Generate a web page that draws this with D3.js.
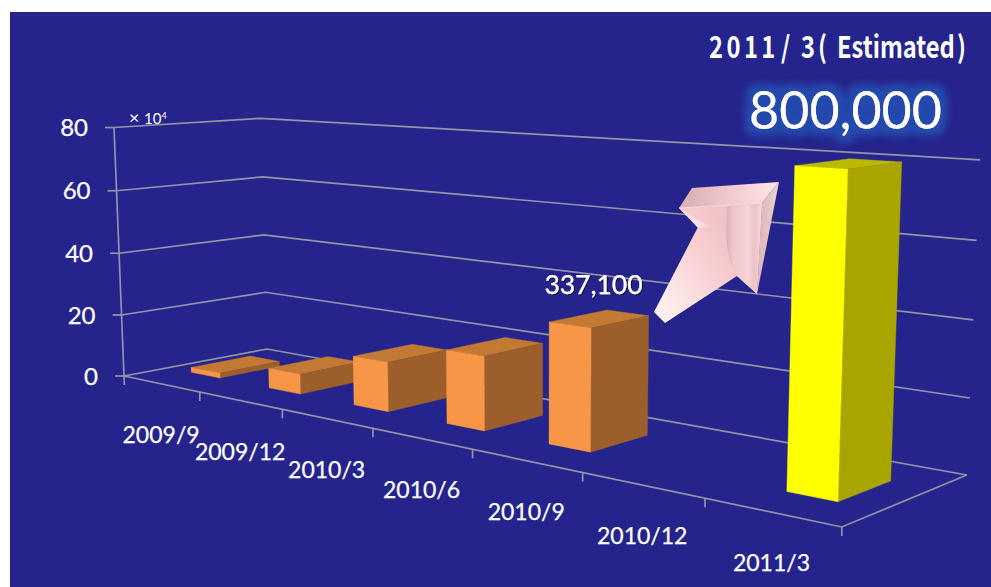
<!DOCTYPE html>
<html>
<head>
<meta charset="utf-8">
<script src="https://cdn.jsdelivr.net/npm/d3@7"></script>
<style>
  html, body { margin: 0; padding: 0; background: #fff; }
  svg { display: block; }
  text { font-family: Lato, "Open Sans", sans-serif; fill: #fff; }
  .soft { stroke: #fff; stroke-width: 0.25; }
</style>
</head>
<body>
<svg id="chart" width="991" height="587"></svg>
<script>
// Quarterly figures, with the final quarter as a forecast
const categories = ["2009/9", "2009/12", "2010/3", "2010/6", "2010/9", "2010/12", "2011/3"];
const values = [16000, 62000, 148000, 214000, 337100, null, 800000];
const estimated = [false, false, false, false, false, false, true];
const yMax = 800000;
const yTickCount = 4;
const valueLabels = { "2010/9": "337,100", "2011/3": "800,000" };
const headlineRuns = ["2011", "/", "3", "(", "Estimated", ")"];

const palette = {
  actual: { front: "#f79646", side: "#9c5f2b", top: "#c27934" },
  estimated: { front: "#ffff00", side: "#a8a400", top: "#bcb800" }
};

const svg = d3.select("#chart");

// Scales work in unit world space: u along the categories, v into the depth, w upward
const uBand = d3.scaleBand().domain(categories).range([0, 1]).paddingInner(0.62).paddingOuter(0.31);
const uTicks = d3.scaleBand().domain(categories).range([0, 1]);
const vBar = d3.scaleLinear().domain([0, 1]).range([0.295, 0.71]);
const w = d3.scaleLinear().domain([0, yMax]).range([0, 1]);

// Perspective camera as a homogeneous 3x4 matrix
const camera = [
  [472, 163.8, -12.7, 124],
  [-2.9, 0.2, -251.5, 376],
  [-0.292, 0.0779, -0.0236, 1]
];
function project(u, v, h) {
  const row = r => r[0] * u + r[1] * v + r[2] * h + r[3];
  const d = row(camera[2]);
  return [row(camera[0]) / d, row(camera[1]) / d];
}
const line = d3.line();

const defs = svg.append("defs");

// Halo behind the headline number
const glow = defs.append("filter").attr("id", "halo")
  .attr("x", "-20%").attr("y", "-50%").attr("width", "140%").attr("height", "200%");
glow.append("feMorphology").attr("in", "SourceAlpha").attr("operator", "dilate").attr("radius", 7).attr("result", "fat");
glow.append("feGaussianBlur").attr("in", "fat").attr("stdDeviation", 3.5).attr("result", "soft");
glow.append("feFlood").attr("flood-color", "#2449ad").attr("result", "tint");
glow.append("feComposite").attr("in", "tint").attr("in2", "soft").attr("operator", "in").attr("result", "ring");
const glowMerge = glow.append("feMerge");
glowMerge.append("feMergeNode").attr("in", "ring");
glowMerge.append("feMergeNode").attr("in", "SourceGraphic");

// Slight drop shadow under the bar label
const shade = defs.append("filter").attr("id", "shade");
shade.append("feDropShadow").attr("dx", 1).attr("dy", 1).attr("stdDeviation", 0.7).attr("flood-color", "#000").attr("flood-opacity", 0.6);

function gradient(id, x1, y1, x2, y2, stops) {
  const g = defs.append("linearGradient").attr("id", id)
    .attr("gradientUnits", "userSpaceOnUse")
    .attr("x1", x1).attr("y1", y1).attr("x2", x2).attr("y2", y2);
  stops.forEach(([o, c]) => g.append("stop").attr("offset", o).attr("stop-color", c));
}
gradient("arrowFront", 660, 300, 740, 250, [[0, "#fdeeee"], [0.6, "#f8d0d2"], [1, "#f0c3c7"]]);
gradient("arrowTop", 690, 200, 775, 190, [[0, "#dcb2b7"], [0.5, "#f3cbce"], [1, "#fde4e4"]]);
gradient("arrowSide", 762, 240, 778, 240, [[0, "#dfb9bc"], [1, "#efd2d3"]]);
gradient("arrowLens", 727, 240, 762, 240, [[0, "#dfb1b6"], [0.18, "#efc8cb"], [0.6, "#f6d3d6"], [0.78, "#ecc2c6"], [1, "#f7d8da"]]);

// Panel
svg.append("rect").attr("x", 10).attr("y", 12).attr("width", 981).attr("height", 575).attr("fill", "#25248c");

// Walls and floor
const gridColor = "#9393a8";
const grid = svg.append("g").attr("fill", "none").attr("stroke", gridColor).attr("stroke-width", 1.7);
const yTicks = d3.scaleLinear().domain([0, yMax]).ticks(yTickCount);
grid.selectAll("path.wall").data(yTicks).join("path").attr("class", "wall")
  .attr("d", t => line([project(0, 0, w(t)), project(0, 1, w(t)), project(1, 1, w(t))]));
grid.selectAll("path.ytick").data(yTicks).join("path").attr("class", "ytick")
  .attr("d", t => {
    const [px, py] = project(0, 0, w(t));
    return line([[px - 9, py], [px, py]]);
  });
grid.append("path").attr("d", () => {
  const [fx, fy] = project(0, 0, 0);
  return line([project(0, 0, 1), [fx, fy], [fx + 0.3, fy + 9]]);
});
grid.append("path").attr("d", line([project(0, 0, 0), project(1, 0, 0), project(1, 1, 0)]));
const xTickAt = categories.map(c => uTicks(c) + uTicks.bandwidth());
grid.selectAll("path.xtick").data(xTickAt).join("path").attr("class", "xtick")
  .attr("d", u => {
    const [px, py] = project(u, 0, 0);
    return line([[px, py], [px, py + 9]]);
  });

// Value axis labels
svg.selectAll("text.ylab").data(yTicks).join("text").attr("class", "ylab soft")
  .attr("x", t => project(0, 0, w(t))[0] - 26)
  .attr("y", t => project(0, 0, w(t))[1])
  .attr("dy", "0.36em").attr("text-anchor", "end").attr("font-size", 24)
  .text(t => t / 10000);

// Unit marker at the top of the axis
const unit = svg.append("text").attr("x", 129).attr("y", 124).attr("font-size", 15);
unit.append("tspan").attr("font-size", 18).text("× ");
unit.append("tspan").text("10");
unit.append("tspan").attr("font-size", 9).attr("dy", -5).text("4");

// Category labels
svg.selectAll("text.xlab").data(categories).join("text").attr("class", "xlab soft")
  .attr("x", c => project(uTicks(c) + uTicks.bandwidth() / 2, 0, 0)[0])
  .attr("y", c => project(uTicks(c) + uTicks.bandwidth() / 2, 0, 0)[1] + 51)
  .attr("dy", "0.36em").attr("text-anchor", "middle").attr("font-size", 23)
  .text(c => c);

// Bars, painted left to right so each one covers its neighbour's side
const rows = categories.map((c, i) => ({ c, value: values[i], est: estimated[i] })).filter(d => d.value != null);
const bars = svg.selectAll("g.bar").data(rows).join("g").attr("class", "bar");
bars.each(function (d) {
  const g = d3.select(this);
  const u0 = uBand(d.c), u1 = u0 + uBand.bandwidth();
  const v0 = vBar(0), v1 = vBar(1), h = w(d.value);
  const colors = d.est ? palette.estimated : palette.actual;
  const face = (pts, fill) => g.append("path")
    .attr("d", line(pts.map(p => project(...p))) + "Z")
    .attr("fill", fill).attr("stroke", fill).attr("stroke-width", 0.4);
  face([[u0, v0, h], [u1, v0, h], [u1, v1, h], [u0, v1, h]], colors.top);
  face([[u1, v0, 0], [u1, v1, 0], [u1, v1, h], [u1, v0, h]], colors.side);
  face([[u0, v0, 0], [u1, v0, 0], [u1, v0, h], [u0, v0, h]], colors.front);
});

// Value callout above the 2010/9 bar
svg.append("text").attr("class", "soft").attr("x", 593.5).attr("y", 294).attr("text-anchor", "middle")
  .attr("font-size", 26.5).attr("filter", "url(#shade)").text(valueLabels["2010/9"]);

// Rising block arrow pointing at the forecast
const arrow = svg.append("g");
const poly = (pts, fill) => arrow.append("path").attr("d", line(pts) + "Z").attr("fill", fill);
poly([[679, 208], [692, 188], [779, 182], [762, 203]], "url(#arrowTop)");
poly([[762, 203], [779, 182], [757, 294]], "url(#arrowSide)");
poly([[654, 312], [698, 227], [679, 208], [762, 203], [757, 294], [737, 276], [665, 323]], "url(#arrowFront)");
arrow.append("path").attr("d", "M727 207 C725 240 727 262 737 276 L757 294 L762 203 Z").attr("fill", "url(#arrowLens)");
poly([[679, 208], [709, 227], [698, 228]], "#fbdfe0");
arrow.append("path").attr("d", line([[679, 208], [762, 203]])).attr("stroke", "#f9dcdc").attr("stroke-width", 1.2).attr("fill", "none");

// Forecast headline: condensed glyphs, set run by run to hold its punctuation gaps
const headScale = 0.79;
const headline = svg.append("text").attr("transform", `translate(0,58) scale(${headScale},1)`)
  .style("font-family", "'Noto Sans CJK JP', sans-serif").attr("font-weight", 700).attr("font-size", 30);
const runX = [709, 781, 801, 818, 837, 957];
const runSpacing = [4.4, 0, 0, 0, 0, 0];
headline.selectAll("tspan").data(headlineRuns).join("tspan")
  .attr("x", (d, i) => runX[i] / headScale)
  .attr("letter-spacing", (d, i) => runSpacing[i])
  .text(d => d);
svg.append("text").attr("x", 845.5).attr("y", 129).attr("text-anchor", "middle")
  .attr("font-size", 52).attr("filter", "url(#halo)").text(valueLabels["2011/3"]);
</script>
</body>
</html>
